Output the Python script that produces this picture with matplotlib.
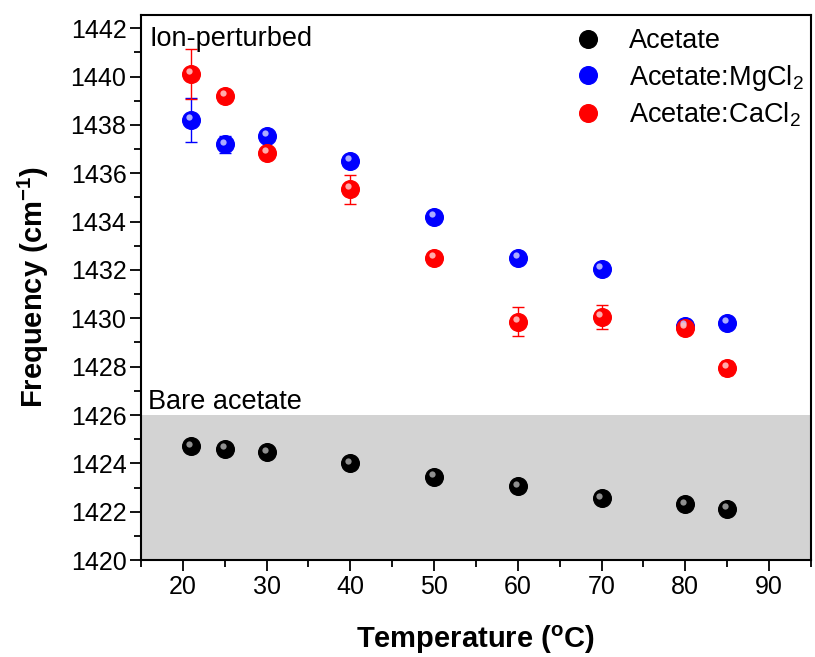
import matplotlib
matplotlib.use("Agg")
import matplotlib.pyplot as plt
import matplotlib.transforms as mtransforms
from matplotlib.lines import Line2D
from matplotlib.ticker import MultipleLocator

plt.rcParams['font.family'] = ['Liberation Sans', 'DejaVu Sans']
plt.rcParams['mathtext.fontset'] = 'custom'
plt.rcParams['mathtext.rm'] = 'Liberation Sans'
plt.rcParams['mathtext.bf'] = 'Liberation Sans:bold'

temps = [21, 25, 30, 40, 50, 60, 70, 80, 85]
acetate = [1424.7, 1424.6, 1424.45, 1424.0, 1423.45, 1423.05, 1422.55, 1422.3, 1422.1]
acetate_err = [0.05, 0.05, 0.05, 0.05, 0.05, 0.05, 0.05, 0.05, 0.05]
mgcl2 = [1438.2, 1437.2, 1437.55, 1436.5, 1434.2, 1432.5, 1432.05, 1429.7, 1429.8]
mgcl2_err = [0.9, 0.35, 0.15, 0.1, 0.1, 0.1, 0.1, 0.2, 0.1]
cacl2 = [1440.1, 1439.2, 1436.85, 1435.35, 1432.5, 1429.85, 1430.05, 1429.6, 1427.95]
cacl2_err = [1.03, 0.1, 0.1, 0.6, 0.2, 0.6, 0.5, 0.25, 0.3]

fig = plt.figure(figsize=(8.15, 6.57), dpi=100)
ax = fig.add_axes([0.173, 0.1476, 0.822, 0.8296])

ax.axhspan(1420, 1426, color='#d3d3d3', zorder=0, lw=0)

series = [
    (acetate, acetate_err, 'black', '#a0a0a0', 'Acetate'),
    (mgcl2, mgcl2_err, '#0000ff', '#c0c0ff', 'Acetate:MgCl$_2$'),
    (cacl2, cacl2_err, '#ff0000', '#ffc0c0', 'Acetate:CaCl$_2$'),
]
# small offset copy of the data transform for the sphere highlight
shine = mtransforms.offset_copy(ax.transData, fig=fig, x=-1.5, y=2, units='points')
handles = []
for vals, errs, col, light, lab in series:
    ax.errorbar(temps, vals, yerr=errs, fmt='o', color=col, ms=12.7,
                mec=col, ecolor=col, elinewidth=1, capsize=4, capthick=1,
                zorder=3)
    ax.plot(temps, vals, 'o', ms=4.5, color=light, mec='none', alpha=0.9,
            transform=shine, zorder=4)
    handles.append(Line2D([], [], ls='none', marker='o', ms=12.7, color=col, label=lab))

ax.set_xlim(15, 95)
ax.set_ylim(1420, 1442.55)
ax.xaxis.set_major_locator(MultipleLocator(10))
ax.xaxis.set_minor_locator(MultipleLocator(5))
ax.yaxis.set_major_locator(MultipleLocator(2))
ax.yaxis.set_minor_locator(MultipleLocator(1))
ax.tick_params(which='both', direction='out', width=1.3, labelsize=18, pad=2.5)
ax.tick_params(which='major', length=8)
ax.tick_params(which='minor', length=5)
for s in ax.spines.values():
    s.set_linewidth(1.5)

ax.set_xlabel('Temperature ($\\mathregular{^oC}$)', fontsize=21, fontweight='bold', labelpad=18)
ax.set_ylabel('Frequency (cm$\\mathregular{^{-1}}$)', fontsize=21, fontweight='bold', labelpad=14)

ax.annotate('Ion-perturbed', xy=(0, 1), xycoords='axes fraction', xytext=(6, -8),
            textcoords='offset points', ha='left', va='top', fontsize=19.5)
blend = mtransforms.blended_transform_factory(ax.transAxes, ax.transData)
ax.text(0.01, 1426.25, 'Bare acetate', transform=blend, ha='left', va='baseline', fontsize=19.5)

ax.legend(handles=handles, loc='upper right', frameon=False, fontsize=19.5,
          handletextpad=0.9, labelspacing=0.3, handlelength=1.2,
          bbox_to_anchor=(1.025, 1.02))

fig.savefig('out.png', dpi=100)
